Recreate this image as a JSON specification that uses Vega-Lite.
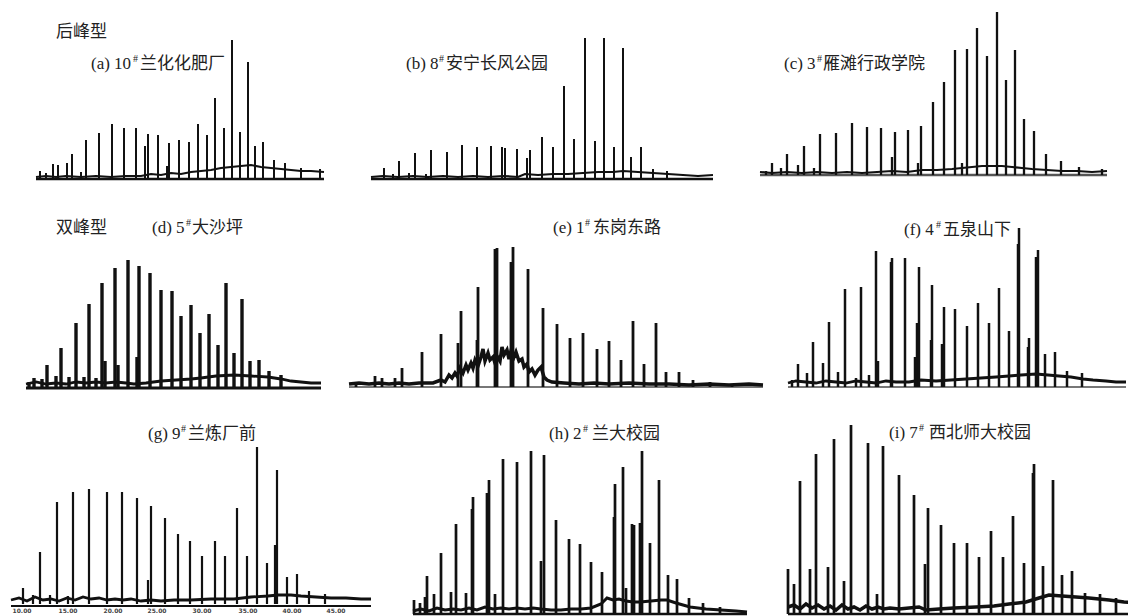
{
"$schema":"https://vega.github.io/schema/vega-lite/v6.json",
"padding":{"left":0,"top":8,"right":0,"bottom":0},
"background":"white",
"spacing":6,
"config":{"view":{"stroke":"transparent"},"concat":{"spacing":10},
"text":{"font":"Liberation Serif, Noto Sans CJK SC","fontSize":17,"align":"left","baseline":"middle","color":"#222"},
"rule":{"color":"#111"},"line":{"color":"#111"}},
"datasets":{
"ticks":[{"x":21,"t":"10.00"},{"x":67,"t":"15.00"},{"x":112,"t":"20.00"},{"x":156,"t":"25.00"},{"x":201,"t":"30.00"},{"x":247,"t":"35.00"},{"x":291,"t":"40.00"},{"x":335,"t":"45.00"}],
"peaks":[
{"p":"a","x":39,"h":8},{"p":"a","x":45,"h":6},{"p":"a","x":52,"h":15},{"p":"a","x":57,"h":14},{"p":"a","x":66,"h":16},{"p":"a","x":71,"h":25},{"p":"a","x":80,"h":7},{"p":"a","x":85,"h":39},{"p":"a","x":98,"h":46},{"p":"a","x":111,"h":55},{"p":"a","x":123,"h":51},{"p":"a","x":135,"h":51},{"p":"a","x":144,"h":33},{"p":"a","x":147,"h":45},{"p":"a","x":157,"h":44},{"p":"a","x":166,"h":13},{"p":"a","x":168,"h":36},{"p":"a","x":178,"h":39},{"p":"a","x":188,"h":37},{"p":"a","x":197,"h":55},{"p":"a","x":206,"h":44},{"p":"a","x":214,"h":81},{"p":"a","x":223,"h":51},{"p":"a","x":231,"h":139},{"p":"a","x":239,"h":47},{"p":"a","x":247,"h":117},{"p":"a","x":254,"h":33},{"p":"a","x":262,"h":37},{"p":"a","x":273,"h":19},{"p":"a","x":284,"h":16},{"p":"a","x":300,"h":11},{"p":"a","x":319,"h":10},
{"p":"b","x":26,"h":11},{"p":"b","x":35,"h":5},{"p":"b","x":41,"h":18},{"p":"b","x":51,"h":6},{"p":"b","x":57,"h":26},{"p":"b","x":68,"h":5},{"p":"b","x":73,"h":29},{"p":"b","x":89,"h":27},{"p":"b","x":104,"h":34},{"p":"b","x":119,"h":32},{"p":"b","x":133,"h":33},{"p":"b","x":144,"h":32},{"p":"b","x":147,"h":31},{"p":"b","x":159,"h":30},{"p":"b","x":169,"h":21},{"p":"b","x":172,"h":29},{"p":"b","x":184,"h":42},{"p":"b","x":195,"h":32},{"p":"b","x":206,"h":93},{"p":"b","x":216,"h":40},{"p":"b","x":227,"h":141},{"p":"b","x":237,"h":38},{"p":"b","x":246,"h":141},{"p":"b","x":256,"h":32},{"p":"b","x":265,"h":131},{"p":"b","x":273,"h":22},{"p":"b","x":283,"h":32},{"p":"b","x":295,"h":10},{"p":"b","x":309,"h":8},
{"p":"c","x":19,"h":4},{"p":"c","x":25,"h":12},{"p":"c","x":34,"h":7},{"p":"c","x":40,"h":21},{"p":"c","x":51,"h":10},{"p":"c","x":57,"h":29},{"p":"c","x":67,"h":7},{"p":"c","x":73,"h":41},{"p":"c","x":89,"h":42},{"p":"c","x":105,"h":52},{"p":"c","x":120,"h":48},{"p":"c","x":134,"h":47},{"p":"c","x":145,"h":18},{"p":"c","x":148,"h":43},{"p":"c","x":161,"h":45},{"p":"c","x":171,"h":12},{"p":"c","x":174,"h":49},{"p":"c","x":186,"h":73},{"p":"c","x":197,"h":93},{"p":"c","x":208,"h":125},{"p":"c","x":215,"h":12},{"p":"c","x":220,"h":126},{"p":"c","x":230,"h":147},{"p":"c","x":240,"h":119},{"p":"c","x":250,"h":163},{"p":"c","x":259,"h":95},{"p":"c","x":268,"h":125},{"p":"c","x":277,"h":56},{"p":"c","x":287,"h":44},{"p":"c","x":299,"h":21},{"p":"c","x":314,"h":14},{"p":"c","x":332,"h":8},{"p":"c","x":355,"h":6},
{"p":"d","x":28,"h":6},{"p":"d","x":33,"h":10},{"p":"d","x":41,"h":9},{"p":"d","x":46,"h":23},{"p":"d","x":55,"h":12},{"p":"d","x":60,"h":40},{"p":"d","x":68,"h":11},{"p":"d","x":75,"h":65},{"p":"d","x":83,"h":11},{"p":"d","x":88,"h":84},{"p":"d","x":95,"h":10},{"p":"d","x":101,"h":105},{"p":"d","x":104,"h":27},{"p":"d","x":114,"h":120},{"p":"d","x":117,"h":23},{"p":"d","x":127,"h":128},{"p":"d","x":136,"h":31},{"p":"d","x":138,"h":122},{"p":"d","x":149,"h":115},{"p":"d","x":160,"h":98},{"p":"d","x":171,"h":97},{"p":"d","x":180,"h":72},{"p":"d","x":190,"h":83},{"p":"d","x":199,"h":55},{"p":"d","x":208,"h":74},{"p":"d","x":217,"h":43},{"p":"d","x":225,"h":105},{"p":"d","x":233,"h":35},{"p":"d","x":241,"h":89},{"p":"d","x":249,"h":27},{"p":"d","x":258,"h":28},{"p":"d","x":268,"h":17},{"p":"d","x":280,"h":13},
{"p":"e","x":7,"h":5},{"p":"e","x":26,"h":11},{"p":"e","x":33,"h":9},{"p":"e","x":46,"h":9},{"p":"e","x":53,"h":19},{"p":"e","x":73,"h":35},{"p":"e","x":92,"h":53},{"p":"e","x":109,"h":44},{"p":"e","x":112,"h":76},{"p":"e","x":128,"h":47},{"p":"e","x":129,"h":100},{"p":"e","x":146,"h":138},{"p":"e","x":148,"h":139},{"p":"e","x":162,"h":125},{"p":"e","x":164,"h":140},{"p":"e","x":179,"h":118},{"p":"e","x":194,"h":79},{"p":"e","x":208,"h":63},{"p":"e","x":221,"h":49},{"p":"e","x":234,"h":54},{"p":"e","x":248,"h":38},{"p":"e","x":260,"h":46},{"p":"e","x":272,"h":27},{"p":"e","x":284,"h":66},{"p":"e","x":295,"h":23},{"p":"e","x":307,"h":64},{"p":"e","x":317,"h":15},{"p":"e","x":330,"h":15},{"p":"e","x":344,"h":7},{"p":"e","x":361,"h":5},{"p":"e","x":383,"h":3},
{"p":"f","x":6,"h":7},{"p":"f","x":12,"h":23},{"p":"f","x":21,"h":14},{"p":"f","x":27,"h":45},{"p":"f","x":37,"h":24},{"p":"f","x":43,"h":65},{"p":"f","x":52,"h":15},{"p":"f","x":59,"h":98},{"p":"f","x":70,"h":9},{"p":"f","x":75,"h":100},{"p":"f","x":83,"h":12},{"p":"f","x":90,"h":136},{"p":"f","x":92,"h":26},{"p":"f","x":105,"h":125},{"p":"f","x":106,"h":129},{"p":"f","x":119,"h":129},{"p":"f","x":129,"h":30},{"p":"f","x":131,"h":64},{"p":"f","x":133,"h":120},{"p":"f","x":145,"h":47},{"p":"f","x":146,"h":102},{"p":"f","x":156,"h":43},{"p":"f","x":158,"h":80},{"p":"f","x":169,"h":78},{"p":"f","x":181,"h":61},{"p":"f","x":192,"h":84},{"p":"f","x":203,"h":64},{"p":"f","x":213,"h":99},{"p":"f","x":223,"h":56},{"p":"f","x":232,"h":143},{"p":"f","x":233,"h":159},{"p":"f","x":242,"h":40},{"p":"f","x":243,"h":49},{"p":"f","x":250,"h":130},{"p":"f","x":252,"h":137},{"p":"f","x":259,"h":33},{"p":"f","x":269,"h":35},{"p":"f","x":281,"h":16},{"p":"f","x":296,"h":14},
{"p":"g","x":22,"h":16},{"p":"g","x":32,"h":9},{"p":"g","x":39,"h":52},{"p":"g","x":49,"h":9},{"p":"g","x":56,"h":102},{"p":"g","x":67,"h":8},{"p":"g","x":72,"h":112},{"p":"g","x":88,"h":115},{"p":"g","x":106,"h":112},{"p":"g","x":121,"h":112},{"p":"g","x":136,"h":106},{"p":"g","x":147,"h":24},{"p":"g","x":150,"h":98},{"p":"g","x":164,"h":86},{"p":"g","x":177,"h":70},{"p":"g","x":189,"h":63},{"p":"g","x":201,"h":48},{"p":"g","x":214,"h":63},{"p":"g","x":224,"h":48},{"p":"g","x":236,"h":96},{"p":"g","x":246,"h":48},{"p":"g","x":256,"h":157},{"p":"g","x":266,"h":41},{"p":"g","x":274,"h":59},{"p":"g","x":276,"h":134},{"p":"g","x":286,"h":27},{"p":"g","x":296,"h":30},{"p":"g","x":308,"h":13},{"p":"g","x":324,"h":10},
{"p":"h","x":3,"h":14},{"p":"h","x":9,"h":11},{"p":"h","x":14,"h":17},{"p":"h","x":16,"h":38},{"p":"h","x":23,"h":20},{"p":"h","x":30,"h":61},{"p":"h","x":40,"h":22},{"p":"h","x":45,"h":90},{"p":"h","x":55,"h":21},{"p":"h","x":61,"h":105},{"p":"h","x":62,"h":117},{"p":"h","x":76,"h":121},{"p":"h","x":78,"h":134},{"p":"h","x":84,"h":20},{"p":"h","x":92,"h":155},{"p":"h","x":106,"h":152},{"p":"h","x":120,"h":163},{"p":"h","x":130,"h":53},{"p":"h","x":133,"h":159},{"p":"h","x":145,"h":94},{"p":"h","x":158,"h":75},{"p":"h","x":169,"h":70},{"p":"h","x":180,"h":52},{"p":"h","x":191,"h":42},{"p":"h","x":203,"h":97},{"p":"h","x":204,"h":130},{"p":"h","x":212,"h":147},{"p":"h","x":215,"h":26},{"p":"h","x":221,"h":90},{"p":"h","x":223,"h":89},{"p":"h","x":229,"h":91},{"p":"h","x":231,"h":163},{"p":"h","x":239,"h":71},{"p":"h","x":248,"h":134},{"p":"h","x":257,"h":39},{"p":"h","x":266,"h":35},{"p":"h","x":278,"h":16},{"p":"h","x":292,"h":11},{"p":"h","x":309,"h":7},
{"p":"i","x":9,"h":45},{"p":"i","x":15,"h":30},{"p":"i","x":21,"h":133},{"p":"i","x":31,"h":45},{"p":"i","x":37,"h":160},{"p":"i","x":49,"h":47},{"p":"i","x":55,"h":175},{"p":"i","x":65,"h":33},{"p":"i","x":72,"h":189},{"p":"i","x":89,"h":171},{"p":"i","x":98,"h":20},{"p":"i","x":104,"h":168},{"p":"i","x":120,"h":139},{"p":"i","x":135,"h":119},{"p":"i","x":146,"h":50},{"p":"i","x":149,"h":106},{"p":"i","x":162,"h":89},{"p":"i","x":175,"h":71},{"p":"i","x":188,"h":71},{"p":"i","x":200,"h":57},{"p":"i","x":212,"h":83},{"p":"i","x":224,"h":57},{"p":"i","x":234,"h":98},{"p":"i","x":245,"h":51},{"p":"i","x":254,"h":141},{"p":"i","x":255,"h":150},{"p":"i","x":264,"h":48},{"p":"i","x":274,"h":134},{"p":"i","x":283,"h":39},{"p":"i","x":293,"h":43},{"p":"i","x":306,"h":21},{"p":"i","x":321,"h":20},{"p":"i","x":337,"h":16}
],
"base":[
{"p":"a","x":35,"h":2},{"p":"a","x":45,"h":3},{"p":"a","x":55,"h":2},{"p":"a","x":65,"h":3},{"p":"a","x":80,"h":2},{"p":"a","x":95,"h":3},{"p":"a","x":110,"h":2},{"p":"a","x":125,"h":3},{"p":"a","x":140,"h":3},{"p":"a","x":150,"h":5},{"p":"a","x":160,"h":4},{"p":"a","x":170,"h":6},{"p":"a","x":180,"h":5},{"p":"a","x":190,"h":7},{"p":"a","x":200,"h":8},{"p":"a","x":210,"h":9},{"p":"a","x":220,"h":11},{"p":"a","x":230,"h":12},{"p":"a","x":240,"h":13},{"p":"a","x":250,"h":14},{"p":"a","x":260,"h":12},{"p":"a","x":270,"h":11},{"p":"a","x":280,"h":10},{"p":"a","x":290,"h":9},{"p":"a","x":300,"h":8},{"p":"a","x":310,"h":8},{"p":"a","x":323,"h":7},
{"p":"b","x":13,"h":2},{"p":"b","x":25,"h":3},{"p":"b","x":40,"h":2},{"p":"b","x":55,"h":3},{"p":"b","x":70,"h":2},{"p":"b","x":85,"h":3},{"p":"b","x":100,"h":2},{"p":"b","x":115,"h":3},{"p":"b","x":130,"h":2},{"p":"b","x":145,"h":3},{"p":"b","x":160,"h":2},{"p":"b","x":167,"h":5},{"p":"b","x":180,"h":4},{"p":"b","x":195,"h":5},{"p":"b","x":210,"h":5},{"p":"b","x":225,"h":6},{"p":"b","x":240,"h":7},{"p":"b","x":255,"h":7},{"p":"b","x":265,"h":8},{"p":"b","x":280,"h":7},{"p":"b","x":295,"h":6},{"p":"b","x":310,"h":5},{"p":"b","x":325,"h":4},{"p":"b","x":340,"h":3},{"p":"b","x":355,"h":4},
{"p":"c","x":13,"h":3},{"p":"c","x":25,"h":2},{"p":"c","x":40,"h":3},{"p":"c","x":55,"h":2},{"p":"c","x":70,"h":3},{"p":"c","x":85,"h":2},{"p":"c","x":100,"h":3},{"p":"c","x":115,"h":2},{"p":"c","x":130,"h":3},{"p":"c","x":145,"h":4},{"p":"c","x":160,"h":3},{"p":"c","x":175,"h":5},{"p":"c","x":190,"h":5},{"p":"c","x":205,"h":6},{"p":"c","x":215,"h":7},{"p":"c","x":225,"h":8},{"p":"c","x":235,"h":9},{"p":"c","x":245,"h":9},{"p":"c","x":255,"h":9},{"p":"c","x":265,"h":8},{"p":"c","x":275,"h":7},{"p":"c","x":285,"h":6},{"p":"c","x":300,"h":5},{"p":"c","x":315,"h":4},{"p":"c","x":330,"h":4},{"p":"c","x":345,"h":3},{"p":"c","x":360,"h":4},
{"p":"d","x":25,"h":4},{"p":"d","x":35,"h":6},{"p":"d","x":45,"h":4},{"p":"d","x":55,"h":5},{"p":"d","x":65,"h":4},{"p":"d","x":75,"h":6},{"p":"d","x":85,"h":5},{"p":"d","x":95,"h":6},{"p":"d","x":105,"h":5},{"p":"d","x":115,"h":6},{"p":"d","x":125,"h":5},{"p":"d","x":133,"h":4},{"p":"d","x":145,"h":5},{"p":"d","x":160,"h":7},{"p":"d","x":175,"h":8},{"p":"d","x":190,"h":9},{"p":"d","x":200,"h":10},{"p":"d","x":215,"h":12},{"p":"d","x":233,"h":13},{"p":"d","x":250,"h":12},{"p":"d","x":267,"h":11},{"p":"d","x":280,"h":9},{"p":"d","x":290,"h":7},{"p":"d","x":300,"h":6},{"p":"d","x":310,"h":5},{"p":"d","x":320,"h":5},
{"p":"e","x":0,"h":3},{"p":"e","x":10,"h":4},{"p":"e","x":20,"h":3},{"p":"e","x":30,"h":4},{"p":"e","x":40,"h":3},{"p":"e","x":50,"h":4},{"p":"e","x":60,"h":3},{"p":"e","x":70,"h":4},{"p":"e","x":84,"h":4},{"p":"e","x":92,"h":7},{"p":"e","x":96,"h":5},{"p":"e","x":100,"h":12},{"p":"e","x":103,"h":9},{"p":"e","x":106,"h":14},{"p":"e","x":108,"h":11},{"p":"e","x":111,"h":19},{"p":"e","x":114,"h":14},{"p":"e","x":117,"h":22},{"p":"e","x":119,"h":17},{"p":"e","x":122,"h":24},{"p":"e","x":124,"h":19},{"p":"e","x":126,"h":27},{"p":"e","x":129,"h":21},{"p":"e","x":132,"h":30},{"p":"e","x":134,"h":38},{"p":"e","x":136,"h":26},{"p":"e","x":139,"h":34},{"p":"e","x":141,"h":27},{"p":"e","x":144,"h":30},{"p":"e","x":146,"h":24},{"p":"e","x":148,"h":31},{"p":"e","x":151,"h":26},{"p":"e","x":153,"h":40},{"p":"e","x":155,"h":32},{"p":"e","x":158,"h":37},{"p":"e","x":160,"h":28},{"p":"e","x":162,"h":36},{"p":"e","x":165,"h":30},{"p":"e","x":167,"h":35},{"p":"e","x":170,"h":26},{"p":"e","x":173,"h":28},{"p":"e","x":175,"h":20},{"p":"e","x":178,"h":23},{"p":"e","x":180,"h":15},{"p":"e","x":183,"h":18},{"p":"e","x":186,"h":12},{"p":"e","x":189,"h":17},{"p":"e","x":192,"h":20},{"p":"e","x":195,"h":10},{"p":"e","x":198,"h":7},{"p":"e","x":203,"h":5},{"p":"e","x":215,"h":4},{"p":"e","x":230,"h":3},{"p":"e","x":245,"h":4},{"p":"e","x":260,"h":3},{"p":"e","x":280,"h":4},{"p":"e","x":300,"h":3},{"p":"e","x":320,"h":3},{"p":"e","x":340,"h":2},{"p":"e","x":360,"h":3},{"p":"e","x":380,"h":2},{"p":"e","x":400,"h":3},{"p":"e","x":414,"h":2},
{"p":"f","x":2,"h":4},{"p":"f","x":10,"h":6},{"p":"f","x":20,"h":5},{"p":"f","x":30,"h":4},{"p":"f","x":40,"h":6},{"p":"f","x":50,"h":5},{"p":"f","x":60,"h":4},{"p":"f","x":70,"h":6},{"p":"f","x":80,"h":5},{"p":"f","x":90,"h":4},{"p":"f","x":100,"h":6},{"p":"f","x":110,"h":5},{"p":"f","x":123,"h":5},{"p":"f","x":135,"h":7},{"p":"f","x":150,"h":6},{"p":"f","x":165,"h":7},{"p":"f","x":180,"h":8},{"p":"f","x":195,"h":9},{"p":"f","x":210,"h":10},{"p":"f","x":223,"h":11},{"p":"f","x":235,"h":12},{"p":"f","x":250,"h":13},{"p":"f","x":262,"h":12},{"p":"f","x":273,"h":11},{"p":"f","x":285,"h":10},{"p":"f","x":297,"h":8},{"p":"f","x":307,"h":7},{"p":"f","x":320,"h":6},{"p":"f","x":330,"h":5},{"p":"f","x":340,"h":5},
{"p":"g","x":10,"h":4},{"p":"g","x":18,"h":6},{"p":"g","x":26,"h":3},{"p":"g","x":34,"h":7},{"p":"g","x":42,"h":4},{"p":"g","x":50,"h":5},{"p":"g","x":58,"h":3},{"p":"g","x":66,"h":6},{"p":"g","x":74,"h":4},{"p":"g","x":82,"h":7},{"p":"g","x":90,"h":5},{"p":"g","x":98,"h":6},{"p":"g","x":106,"h":4},{"p":"g","x":114,"h":5},{"p":"g","x":122,"h":4},{"p":"g","x":130,"h":5},{"p":"g","x":140,"h":3},{"p":"g","x":150,"h":4},{"p":"g","x":160,"h":3},{"p":"g","x":173,"h":4},{"p":"g","x":190,"h":4},{"p":"g","x":210,"h":5},{"p":"g","x":233,"h":5},{"p":"g","x":250,"h":7},{"p":"g","x":267,"h":8},{"p":"g","x":277,"h":9},{"p":"g","x":290,"h":9},{"p":"g","x":300,"h":8},{"p":"g","x":315,"h":7},{"p":"g","x":330,"h":6},{"p":"g","x":345,"h":6},{"p":"g","x":360,"h":5},{"p":"g","x":370,"h":5},
{"p":"h","x":2,"h":3},{"p":"h","x":10,"h":5},{"p":"h","x":18,"h":3},{"p":"h","x":26,"h":6},{"p":"h","x":34,"h":4},{"p":"h","x":42,"h":5},{"p":"h","x":50,"h":4},{"p":"h","x":58,"h":6},{"p":"h","x":66,"h":4},{"p":"h","x":74,"h":7},{"p":"h","x":82,"h":5},{"p":"h","x":90,"h":6},{"p":"h","x":98,"h":5},{"p":"h","x":106,"h":6},{"p":"h","x":114,"h":5},{"p":"h","x":122,"h":6},{"p":"h","x":130,"h":5},{"p":"h","x":140,"h":4},{"p":"h","x":150,"h":4},{"p":"h","x":160,"h":5},{"p":"h","x":170,"h":5},{"p":"h","x":180,"h":6},{"p":"h","x":190,"h":10},{"p":"h","x":196,"h":16},{"p":"h","x":202,"h":14},{"p":"h","x":208,"h":15},{"p":"h","x":215,"h":13},{"p":"h","x":222,"h":12},{"p":"h","x":229,"h":12},{"p":"h","x":240,"h":13},{"p":"h","x":250,"h":14},{"p":"h","x":256,"h":14},{"p":"h","x":265,"h":11},{"p":"h","x":279,"h":7},{"p":"h","x":295,"h":5},{"p":"h","x":310,"h":4},{"p":"h","x":325,"h":3},{"p":"h","x":336,"h":2},
{"p":"i","x":9,"h":7},{"p":"i","x":15,"h":9},{"p":"i","x":21,"h":5},{"p":"i","x":27,"h":10},{"p":"i","x":33,"h":6},{"p":"i","x":39,"h":9},{"p":"i","x":45,"h":5},{"p":"i","x":51,"h":8},{"p":"i","x":57,"h":4},{"p":"i","x":63,"h":9},{"p":"i","x":69,"h":5},{"p":"i","x":75,"h":7},{"p":"i","x":81,"h":4},{"p":"i","x":87,"h":8},{"p":"i","x":93,"h":5},{"p":"i","x":99,"h":7},{"p":"i","x":105,"h":5},{"p":"i","x":111,"h":6},{"p":"i","x":120,"h":5},{"p":"i","x":130,"h":6},{"p":"i","x":140,"h":7},{"p":"i","x":147,"h":4},{"p":"i","x":160,"h":5},{"p":"i","x":175,"h":6},{"p":"i","x":197,"h":7},{"p":"i","x":215,"h":8},{"p":"i","x":230,"h":10},{"p":"i","x":247,"h":12},{"p":"i","x":260,"h":16},{"p":"i","x":270,"h":19},{"p":"i","x":283,"h":18},{"p":"i","x":297,"h":17},{"p":"i","x":310,"h":16},{"p":"i","x":330,"h":14},{"p":"i","x":345,"h":12},{"p":"i","x":358,"h":11}
]},
"vconcat":[
{"hconcat":[
{"width":345,"height":174,"layer":[
{"data":{"name":"base"},"transform":[{"filter":"datum.p=='a'"}],"mark":{"type":"line","strokeWidth":2.5},"encoding":{"x":{"field":"x","type":"quantitative","scale":{"domain":[0,345],"nice":false,"zero":false},"axis":null},"y":{"datum":0,"type":"quantitative","scale":{"domain":[-4,170],"nice":false,"zero":false},"axis":null}}},
{"data":{"name":"base"},"transform":[{"filter":"datum.p=='a'"}],"mark":{"type":"line","strokeWidth":2.2},"encoding":{"x":{"field":"x","type":"quantitative"},"y":{"field":"h","type":"quantitative"}}},
{"data":{"name":"peaks"},"transform":[{"filter":"datum.p=='a'"}],"mark":{"type":"rule","strokeWidth":2},"encoding":{"x":{"field":"x","type":"quantitative"},"y":{"field":"h","type":"quantitative"},"y2":{"datum":0}}},
{"data":{"values":[{}]},"mark":{"type":"text","text":"后峰型"},"encoding":{"x":{"datum":55,"type":"quantitative"},"y":{"datum":147,"type":"quantitative"}}},
{"data":{"values":[{}]},"mark":{"type":"text","text":"(a) 10"},"encoding":{"x":{"datum":90,"type":"quantitative"},"y":{"datum":115,"type":"quantitative"}}},
{"data":{"values":[{}]},"mark":{"type":"text","text":"#","fontSize":10},"encoding":{"x":{"datum":132,"type":"quantitative"},"y":{"datum":120,"type":"quantitative"}}},
{"data":{"values":[{}]},"mark":{"type":"text","text":"兰化化肥厂"},"encoding":{"x":{"datum":139,"type":"quantitative"},"y":{"datum":115,"type":"quantitative"}}}
]},
{"width":377,"height":174,"layer":[
{"data":{"name":"base"},"transform":[{"filter":"datum.p=='b'"}],"mark":{"type":"line","strokeWidth":2.5},"encoding":{"x":{"field":"x","type":"quantitative","scale":{"domain":[0,377],"nice":false,"zero":false},"axis":null},"y":{"datum":0,"type":"quantitative","scale":{"domain":[-4,170],"nice":false,"zero":false},"axis":null}}},
{"data":{"name":"base"},"transform":[{"filter":"datum.p=='b'"}],"mark":{"type":"line","strokeWidth":2.2},"encoding":{"x":{"field":"x","type":"quantitative"},"y":{"field":"h","type":"quantitative"}}},
{"data":{"name":"peaks"},"transform":[{"filter":"datum.p=='b'"}],"mark":{"type":"rule","strokeWidth":2},"encoding":{"x":{"field":"x","type":"quantitative"},"y":{"field":"h","type":"quantitative"},"y2":{"datum":0}}},
{"data":{"values":[{}]},"mark":{"type":"text","text":"(b) 8"},"encoding":{"x":{"datum":48,"type":"quantitative"},"y":{"datum":115,"type":"quantitative"}}},
{"data":{"values":[{}]},"mark":{"type":"text","text":"#","fontSize":10},"encoding":{"x":{"datum":81,"type":"quantitative"},"y":{"datum":120,"type":"quantitative"}}},
{"data":{"values":[{}]},"mark":{"type":"text","text":"安宁长风公园"},"encoding":{"x":{"datum":88,"type":"quantitative"},"y":{"datum":115,"type":"quantitative"}}}
]},
{"width":386,"height":174,"layer":[
{"data":{"name":"base"},"transform":[{"filter":"datum.p=='c'"}],"mark":{"type":"line","strokeWidth":2.5,"color":"#555"},"encoding":{"x":{"field":"x","type":"quantitative","scale":{"domain":[0,386],"nice":false,"zero":false},"axis":null},"y":{"datum":0,"type":"quantitative","scale":{"domain":[-8,166],"nice":false,"zero":false},"axis":null}}},
{"data":{"name":"base"},"transform":[{"filter":"datum.p=='c'"}],"mark":{"type":"line","strokeWidth":2.2},"encoding":{"x":{"field":"x","type":"quantitative"},"y":{"field":"h","type":"quantitative"}}},
{"data":{"name":"peaks"},"transform":[{"filter":"datum.p=='c'"}],"mark":{"type":"rule","strokeWidth":2.3},"encoding":{"x":{"field":"x","type":"quantitative"},"y":{"field":"h","type":"quantitative"},"y2":{"datum":0}}},
{"data":{"values":[{}]},"mark":{"type":"text","text":"(c) 3"},"encoding":{"x":{"datum":37,"type":"quantitative"},"y":{"datum":111,"type":"quantitative"}}},
{"data":{"values":[{}]},"mark":{"type":"text","text":"#","fontSize":10},"encoding":{"x":{"datum":70,"type":"quantitative"},"y":{"datum":116,"type":"quantitative"}}},
{"data":{"values":[{}]},"mark":{"type":"text","text":"雁滩行政学院"},"encoding":{"x":{"datum":76,"type":"quantitative"},"y":{"datum":111,"type":"quantitative"}}}
]}
]},
{"hconcat":[
{"width":329,"height":200,"layer":[
{"data":{"name":"base"},"transform":[{"filter":"datum.p=='d'"}],"mark":{"type":"line","strokeWidth":3},"encoding":{"x":{"field":"x","type":"quantitative","scale":{"domain":[0,329],"nice":false,"zero":false},"axis":null},"y":{"datum":0,"type":"quantitative","scale":{"domain":[-4,196],"nice":false,"zero":false},"axis":null}}},
{"data":{"name":"base"},"transform":[{"filter":"datum.p=='d'"}],"mark":{"type":"line","strokeWidth":2.8},"encoding":{"x":{"field":"x","type":"quantitative"},"y":{"field":"h","type":"quantitative"}}},
{"data":{"name":"peaks"},"transform":[{"filter":"datum.p=='d'"}],"mark":{"type":"rule","strokeWidth":3.4},"encoding":{"x":{"field":"x","type":"quantitative"},"y":{"field":"h","type":"quantitative"},"y2":{"datum":0}}},
{"data":{"values":[{}]},"mark":{"type":"text","text":"双峰型"},"encoding":{"x":{"datum":55,"type":"quantitative"},"y":{"datum":160,"type":"quantitative"}}},
{"data":{"values":[{}]},"mark":{"type":"text","text":"(d) 5"},"encoding":{"x":{"datum":151,"type":"quantitative"},"y":{"datum":160,"type":"quantitative"}}},
{"data":{"values":[{}]},"mark":{"type":"text","text":"#","fontSize":10},"encoding":{"x":{"datum":185,"type":"quantitative"},"y":{"datum":165,"type":"quantitative"}}},
{"data":{"values":[{}]},"mark":{"type":"text","text":"大沙坪"},"encoding":{"x":{"datum":191,"type":"quantitative"},"y":{"datum":160,"type":"quantitative"}}}
]},
{"width":421,"height":200,"layer":[
{"data":{"name":"base"},"transform":[{"filter":"datum.p=='e'"}],"mark":{"type":"line","strokeWidth":2,"color":"#777"},"encoding":{"x":{"field":"x","type":"quantitative","scale":{"domain":[0,421],"nice":false,"zero":false},"axis":null},"y":{"datum":0,"type":"quantitative","scale":{"domain":[-5,195],"nice":false,"zero":false},"axis":null}}},
{"data":{"name":"base"},"transform":[{"filter":"datum.p=='e'"}],"mark":{"type":"line","strokeWidth":3.5},"encoding":{"x":{"field":"x","type":"quantitative"},"y":{"field":"h","type":"quantitative"}}},
{"data":{"name":"peaks"},"transform":[{"filter":"datum.p=='e'"}],"mark":{"type":"rule","strokeWidth":2.8},"encoding":{"x":{"field":"x","type":"quantitative"},"y":{"field":"h","type":"quantitative"},"y2":{"datum":0}}},
{"data":{"values":[{}]},"mark":{"type":"text","text":"(e) 1"},"encoding":{"x":{"datum":204,"type":"quantitative"},"y":{"datum":159,"type":"quantitative"}}},
{"data":{"values":[{}]},"mark":{"type":"text","text":"#","fontSize":10},"encoding":{"x":{"datum":236,"type":"quantitative"},"y":{"datum":164,"type":"quantitative"}}},
{"data":{"values":[{}]},"mark":{"type":"text","text":"东岗东路"},"encoding":{"x":{"datum":244,"type":"quantitative"},"y":{"datum":159,"type":"quantitative"}}}
]},
{"width":358,"height":200,"layer":[
{"data":{"name":"base"},"transform":[{"filter":"datum.p=='f'"}],"mark":{"type":"line","strokeWidth":2,"color":"#777"},"encoding":{"x":{"field":"x","type":"quantitative","scale":{"domain":[0,358],"nice":false,"zero":false},"axis":null},"y":{"datum":0,"type":"quantitative","scale":{"domain":[-5,195],"nice":false,"zero":false},"axis":null}}},
{"data":{"name":"base"},"transform":[{"filter":"datum.p=='f'"}],"mark":{"type":"line","strokeWidth":2.8},"encoding":{"x":{"field":"x","type":"quantitative"},"y":{"field":"h","type":"quantitative"}}},
{"data":{"name":"peaks"},"transform":[{"filter":"datum.p=='f'"}],"mark":{"type":"rule","strokeWidth":2.5},"encoding":{"x":{"field":"x","type":"quantitative"},"y":{"field":"h","type":"quantitative"},"y2":{"datum":0}}},
{"data":{"values":[{}]},"mark":{"type":"text","text":"(f) 4"},"encoding":{"x":{"datum":118,"type":"quantitative"},"y":{"datum":157,"type":"quantitative"}}},
{"data":{"values":[{}]},"mark":{"type":"text","text":"#","fontSize":10},"encoding":{"x":{"datum":150,"type":"quantitative"},"y":{"datum":162,"type":"quantitative"}}},
{"data":{"values":[{}]},"mark":{"type":"text","text":"五泉山下"},"encoding":{"x":{"datum":157,"type":"quantitative"},"y":{"datum":157,"type":"quantitative"}}}
]}
]},
{"hconcat":[
{"width":394,"height":214,"layer":[
{"data":{"name":"base"},"transform":[{"filter":"datum.p=='g'"}],"mark":{"type":"line","strokeWidth":2.2},"encoding":{"x":{"field":"x","type":"quantitative","scale":{"domain":[0,394],"nice":false,"zero":false},"axis":null},"y":{"datum":-2,"type":"quantitative","scale":{"domain":[-12,202],"nice":false,"zero":false},"axis":null}}},
{"data":{"name":"base"},"transform":[{"filter":"datum.p=='g'"}],"mark":{"type":"line","strokeWidth":2.8},"encoding":{"x":{"field":"x","type":"quantitative"},"y":{"field":"h","type":"quantitative"}}},
{"data":{"name":"peaks"},"transform":[{"filter":"datum.p=='g'"}],"mark":{"type":"rule","strokeWidth":2.2},"encoding":{"x":{"field":"x","type":"quantitative"},"y":{"field":"h","type":"quantitative"},"y2":{"datum":0}}},
{"data":{"name":"ticks"},"mark":{"type":"text","fontSize":6,"fontWeight":"bold","align":"center","color":"#444","font":"DejaVu Sans"},"encoding":{"x":{"field":"x","type":"quantitative"},"y":{"datum":-6.5,"type":"quantitative"},"text":{"field":"t"}}},
{"data":{"values":[{}]},"mark":{"type":"text","text":"(g) 9"},"encoding":{"x":{"datum":147,"type":"quantitative"},"y":{"datum":170,"type":"quantitative"}}},
{"data":{"values":[{}]},"mark":{"type":"text","text":"#","fontSize":10},"encoding":{"x":{"datum":180,"type":"quantitative"},"y":{"datum":175,"type":"quantitative"}}},
{"data":{"values":[{}]},"mark":{"type":"text","text":"兰炼厂前"},"encoding":{"x":{"datum":187,"type":"quantitative"},"y":{"datum":170,"type":"quantitative"}}}
]},
{"width":356,"height":214,"layer":[
{"data":{"name":"base"},"transform":[{"filter":"datum.p=='h'"}],"mark":{"type":"line","strokeWidth":2.5},"encoding":{"x":{"field":"x","type":"quantitative","scale":{"domain":[0,356],"nice":false,"zero":false},"axis":null},"y":{"datum":0,"type":"quantitative","scale":{"domain":[-2,212],"nice":false,"zero":false},"axis":null}}},
{"data":{"name":"base"},"transform":[{"filter":"datum.p=='h'"}],"mark":{"type":"line","strokeWidth":3},"encoding":{"x":{"field":"x","type":"quantitative"},"y":{"field":"h","type":"quantitative"}}},
{"data":{"name":"peaks"},"transform":[{"filter":"datum.p=='h'"}],"mark":{"type":"rule","strokeWidth":2.7},"encoding":{"x":{"field":"x","type":"quantitative"},"y":{"field":"h","type":"quantitative"},"y2":{"datum":0}}},
{"data":{"values":[{}]},"mark":{"type":"text","text":"(h) 2"},"encoding":{"x":{"datum":138,"type":"quantitative"},"y":{"datum":180,"type":"quantitative"}}},
{"data":{"values":[{}]},"mark":{"type":"text","text":"#","fontSize":10},"encoding":{"x":{"datum":172,"type":"quantitative"},"y":{"datum":185,"type":"quantitative"}}},
{"data":{"values":[{}]},"mark":{"type":"text","text":"兰大校园"},"encoding":{"x":{"datum":181,"type":"quantitative"},"y":{"datum":180,"type":"quantitative"}}}
]},
{"width":358,"height":214,"layer":[
{"data":{"name":"base"},"transform":[{"filter":"datum.p=='i'"}],"mark":{"type":"line","strokeWidth":2.5},"encoding":{"x":{"field":"x","type":"quantitative","scale":{"domain":[0,358],"nice":false,"zero":false},"axis":null},"y":{"datum":0,"type":"quantitative","scale":{"domain":[-2,212],"nice":false,"zero":false},"axis":null}}},
{"data":{"name":"base"},"transform":[{"filter":"datum.p=='i'"}],"mark":{"type":"line","strokeWidth":3.5},"encoding":{"x":{"field":"x","type":"quantitative"},"y":{"field":"h","type":"quantitative"}}},
{"data":{"name":"peaks"},"transform":[{"filter":"datum.p=='i'"}],"mark":{"type":"rule","strokeWidth":2.7},"encoding":{"x":{"field":"x","type":"quantitative"},"y":{"field":"h","type":"quantitative"},"y2":{"datum":0}}},
{"data":{"values":[{}]},"mark":{"type":"text","text":"(i) 7"},"encoding":{"x":{"datum":110,"type":"quantitative"},"y":{"datum":181,"type":"quantitative"}}},
{"data":{"values":[{}]},"mark":{"type":"text","text":"#","fontSize":10},"encoding":{"x":{"datum":140,"type":"quantitative"},"y":{"datum":186,"type":"quantitative"}}},
{"data":{"values":[{}]},"mark":{"type":"text","text":"西北师大校园"},"encoding":{"x":{"datum":150,"type":"quantitative"},"y":{"datum":181,"type":"quantitative"}}}
]}
]}
]
}
